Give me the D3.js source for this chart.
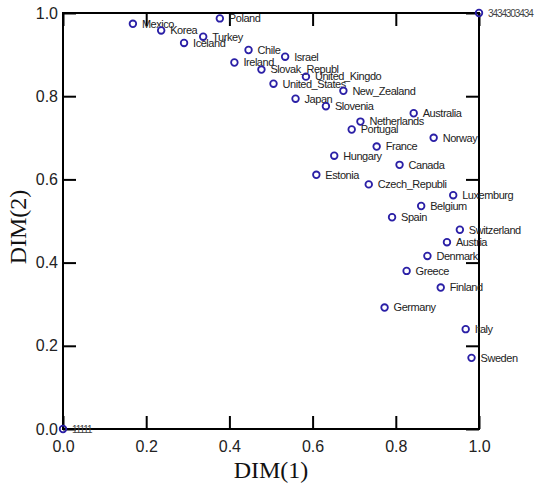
<!DOCTYPE html>
<html>
<head>
<meta charset="utf-8">
<script src="https://cdn.jsdelivr.net/npm/d3@7"></script>
<style>
  html, body { margin: 0; padding: 0; background: #fff; }
  svg { display: block; }
</style>
</head>
<body>
<svg id="chart" width="538" height="488"></svg>
<script>
// ---- data ----
const labels = ["Mexico","Korea","Turkey","Iceland","Poland","Chile","Israel","Ireland",
  "Slovak_Republ","United_States","Japan","United_Kingdo","New_Zealand","Slovenia",
  "Australia","Netherlands","Portugal","Norway","France","Hungary","Canada","Estonia",
  "Czech_Republi","Luxemburg","Belgium","Spain","Switzerland","Austria","Denmark",
  "Greece","Finland","Germany","Italy","Sweden","3434303434","11111"];
const dim1 = [0.168,0.236,0.337,0.291,0.377,0.446,0.534,0.412,
  0.477,0.506,0.559,0.584,0.674,0.632,
  0.843,0.715,0.694,0.891,0.754,0.652,0.809,0.609,
  0.735,0.938,0.861,0.791,0.954,0.923,0.876,
  0.826,0.908,0.773,0.968,0.982,1.0,0.0];
const dim2 = [0.974,0.958,0.943,0.928,0.987,0.911,0.895,0.881,
  0.864,0.830,0.794,0.847,0.813,0.776,
  0.759,0.739,0.720,0.700,0.679,0.657,0.635,0.611,
  0.588,0.562,0.536,0.509,0.479,0.449,0.416,
  0.380,0.340,0.292,0.240,0.171,1.0,0.0];
const xTicks = [0, 0.2, 0.4, 0.6, 0.8, 1.0];
const yTicks = [0, 0.2, 0.4, 0.6, 0.8, 1.0];
const xTitle = "DIM(1)";
const yTitle = "DIM(2)";

// ---- drawing ----
const svg = d3.select("#chart");
const x = d3.scaleLinear().domain([0, 1]).range([63, 479]);
const y = d3.scaleLinear().domain([0, 1]).range([429, 13]);
const fmt = d3.format(".1f");

function styleAxis(g) {
  g.select(".domain").remove();
  g.selectAll(".tick line").attr("stroke", "#000").attr("stroke-width", 2);
  g.selectAll(".tick text").attr("fill", "#222")
    .style("font-family", "'Liberation Sans', Arial, sans-serif")
    .style("font-size", "16px");
}

// bottom axis with labels
svg.append("g").attr("transform", `translate(0,${y(0)})`)
  .call(d3.axisBottom(x).tickValues(xTicks).tickFormat(fmt).tickSizeInner(-13).tickSizeOuter(0).tickPadding(11.6))
  .call(styleAxis);
// left axis with labels
svg.append("g").attr("transform", `translate(${x(0)},0)`)
  .call(d3.axisLeft(y).tickValues(yTicks).tickFormat(fmt).tickSizeInner(-13).tickSizeOuter(0).tickPadding(5))
  .call(styleAxis);
// top axis (ticks only)
svg.append("g").attr("transform", `translate(0,${y(1)})`)
  .call(d3.axisTop(x).tickValues(xTicks).tickFormat("").tickSizeInner(-13).tickSizeOuter(0))
  .call(styleAxis);
// right axis (ticks only)
svg.append("g").attr("transform", `translate(${x(1)},0)`)
  .call(d3.axisRight(y).tickValues(yTicks).tickFormat("").tickSizeInner(-13).tickSizeOuter(0))
  .call(styleAxis);

// frame
svg.append("rect")
  .attr("x", x(0)).attr("y", y(1))
  .attr("width", x(1) - x(0)).attr("height", y(0) - y(1))
  .attr("fill", "none").attr("stroke", "#000").attr("stroke-width", 2);

// axis titles
svg.append("text")
  .attr("x", (x(0) + x(1)) / 2).attr("y", 478)
  .attr("text-anchor", "middle")
  .style("font-family", "'Liberation Serif', 'Times New Roman', serif")
  .style("font-size", "24px").attr("fill", "#111")
  .text(xTitle);
svg.append("text")
  .attr("transform", `translate(26,${(y(0) + y(1)) / 2 + 6}) rotate(-90)`)
  .attr("text-anchor", "middle")
  .style("font-family", "'Liberation Serif', 'Times New Roman', serif")
  .style("font-size", "24px").attr("fill", "#111")
  .text(yTitle);

// points
const pts = labels.map((l, i) => ({ label: l, a: dim1[i], b: dim2[i] }));
const isNum = s => /^\d+$/.test(s);

svg.append("g").selectAll("text").data(pts).join("text")
  .attr("x", d => x(d.a) + 9)
  .attr("y", d => y(d.b))
  .attr("dy", "0.35em")
  .attr("fill", d => isNum(d.label) ? "#444" : "#222")
  .style("font-family", "'Liberation Sans', Arial, sans-serif")
  .style("font-size", d => isNum(d.label) ? "10px" : "11px")
  .style("letter-spacing", d => isNum(d.label) ? "-1.1px" : "-0.45px")
  .text(d => d.label);

svg.append("g").selectAll("circle").data(pts).join("circle")
  .attr("cx", d => x(d.a))
  .attr("cy", d => y(d.b))
  .attr("r", 3.3)
  .attr("fill", "none")
  .attr("stroke", "#2a1fa6")
  .attr("stroke-width", 1.8);
</script>
</body>
</html>
